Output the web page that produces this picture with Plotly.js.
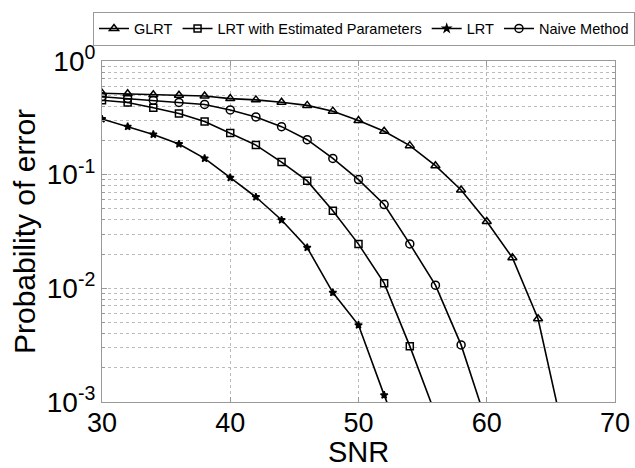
<!DOCTYPE html>
<html>
<head>
<meta charset="utf-8">
<script src="https://cdn.plot.ly/plotly-3.0.1.min.js"></script>
<style>html,body{margin:0;padding:0;background:#fff;}#plot{width:635px;height:468px;}</style>
</head>
<body>
<div id="plot"></div>
<script>
var snr = [30,32,34,36,38,40,42,44,46,48,50,52,54,56,58,60,62,64,66];
var glrt = [0.521,0.515,0.505,0.499,0.492,0.467,0.455,0.434,0.407,0.362,0.299,0.241,0.180,0.120,0.0733,0.0387,0.0186,0.0054,0.00052];
var lrtEst = [0.452,0.432,0.388,0.345,0.294,0.233,0.182,0.129,0.0882,0.0481,0.0245,0.0111,0.0031,0.00078];
var lrt = [0.309,0.2645,0.226,0.186,0.139,0.0941,0.0636,0.0399,0.0228,0.00917,0.00475,0.00115,0.0003];
var naive = [0.485,0.468,0.452,0.432,0.415,0.371,0.322,0.2645,0.203,0.139,0.0905,0.0546,0.0246,0.01067,0.00318,0.00065];
var seriesNames = ["GLRT","LRT with Estimated Parameters","LRT","Naive Method"];
var xTickVals = [30,40,50,60,70];
var yTickVals = [0.001,0.01,0.1,1];
var yTickText = ["10<sup>-3</sup>","10<sup>-2</sup>","10<sup>-1</sup>","10<sup>0</sup>"];

function tr(y, name, sym, size){
  return {x: snr.slice(0, y.length), y: y, name: name, type:'scatter', mode:'lines+markers',
    line:{color:'#000', width:1.6},
    marker:{symbol:sym, size:size, color:'#000', line:{color:'#000', width:1.5}},
    cliponaxis:true};
}
var data = [
  tr(glrt, seriesNames[0], 'triangle-up-open', 8),
  tr(lrtEst, seriesNames[1], 'square-open', 7),
  tr(lrt, seriesNames[2], 'star', 5.5),
  tr(naive, seriesNames[3], 'circle-open', 8)
];
var F = 'Liberation Sans';
var layout = {
  width:635, height:468,
  margin:{l:102, r:20, t:49.5, b:66.3, pad:0},
  paper_bgcolor:'#fff', plot_bgcolor:'#fff',
  font:{family:F, color:'#000'},
  showlegend:true,
  legend:{orientation:'h', x:-0.014, y:1.145, xanchor:'left', yanchor:'top',
    bordercolor:'#999', borderwidth:1, bgcolor:'#fff',
    font:{size:14.5, family:F}, itemwidth:30, tracegroupgap:0},
  xaxis:{range:[30,70], tickvals:xTickVals, ticks:'inside', ticklen:5, tickcolor:'#999',
    showline:true, linecolor:'#999', linewidth:1, mirror:'ticks',
    showgrid:true, gridcolor:'#bbb', griddash:'dot', gridwidth:1,
    zeroline:false, tickfont:{size:27, family:F}, automargin:false, ticklabelstandoff:-3,
    title:{text:'SNR', font:{size:29, family:F}, standoff:3}},
  yaxis:{type:'log', range:[-3,0], tickvals:yTickVals, ticktext:yTickText,
    ticks:'inside', ticklen:5, tickcolor:'#999',
    showline:true, linecolor:'#999', linewidth:1, mirror:'ticks',
    showgrid:true, gridcolor:'#bbb', griddash:'dot', gridwidth:1,
    minor:{dtick:'D1', showgrid:true, gridcolor:'#bbb', griddash:'dot', ticks:'inside', ticklen:3, tickcolor:'#999'},
    zeroline:false, tickfont:{size:28, family:F}, automargin:false,
    title:{text:'Probability of error', font:{size:30, family:F}, standoff:2}}
};
Plotly.newPlot('plot', data, layout, {staticPlot:true, displayModeBar:false});
</script>
</body>
</html>
